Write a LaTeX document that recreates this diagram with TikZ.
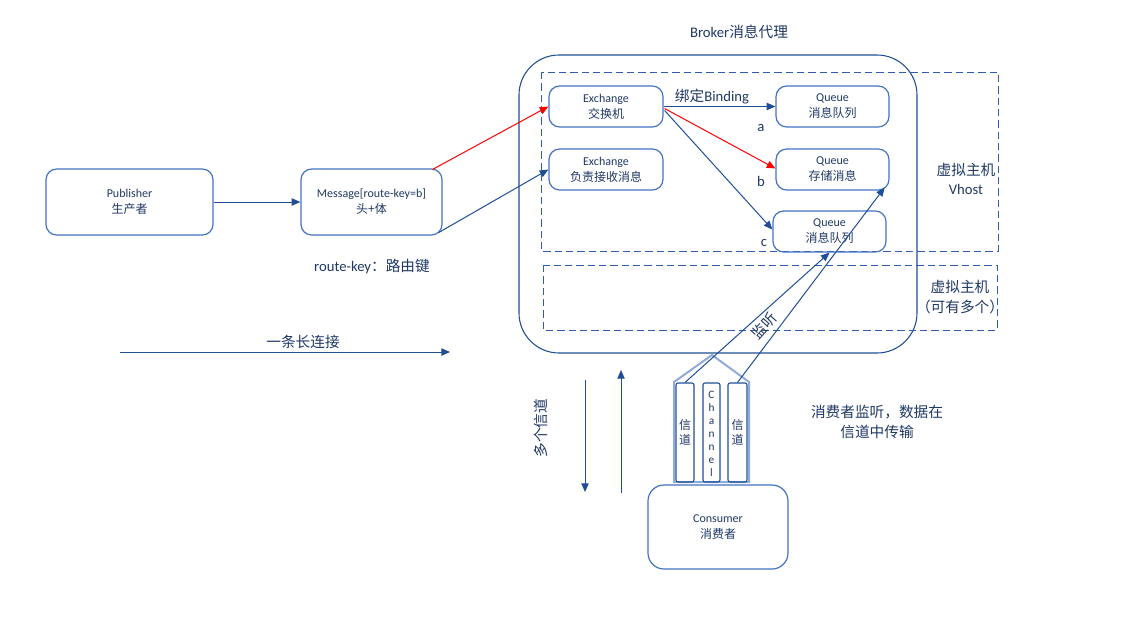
\documentclass[tikz,border=0pt]{standalone}
\usepackage{fontspec}
\setmainfont{Carlito}
\newfontfamily\cjk{Noto Sans CJK SC}
\usetikzlibrary{arrows.meta,calc}
\definecolor{lineblue}{HTML}{1F4E96}
\definecolor{dashblue}{HTML}{2F5CB0}
\definecolor{boxblue}{HTML}{4472C4}
\definecolor{txt}{HTML}{1F3864}
\definecolor{lightblue}{HTML}{8FAADC}
\begin{document}
\begin{tikzpicture}[x=0.75pt,y=-0.75pt,
  wh/.style 2 args={minimum width={#1*0.75pt}, minimum height={#2*0.75pt}},
  box/.style={draw=boxblue, line width=0.9pt, rounded corners=8pt, inner sep=0pt, align=center, text=txt, font=\fontsize{9}{12}\selectfont},
  chbox/.style={draw=lineblue, line width=0.8pt, rounded corners=1.5pt, inner sep=0pt, align=center, text=txt, font=\fontsize{9}{11.5}\selectfont},
  lbl/.style={text=txt, inner sep=0pt, align=center, font=\fontsize{11}{14.5}\selectfont},
  arr/.style={draw=lineblue, line width=0.75pt, -{Triangle[length=6.5pt,width=5.5pt]}},
  redarr/.style={draw=red, line width=0.75pt, -{Triangle[length=6.5pt,width=5.5pt]}},
  dash box/.style={draw=dashblue, line width=0.65pt, dash pattern=on 5.5pt off 3pt},
]
\useasboundingbox (0,0) rectangle (1138,621);

% Broker
\node[draw=lineblue, line width=0.8pt, rounded corners=30pt, wh={398}{298}, inner sep=0pt] (broker) at (718,204) {};
\node[lbl] (brokerlbl) at (739,32) {Broker{\cjk 消息代理}};

% virtual hosts
\draw[dash box] (541,72) rectangle (998,251);
\draw[dash box] (543,265) rectangle (997,330);
\node[lbl] (vh1) at (966,179) {{\cjk 虚拟主机}\\Vhost};
\node[lbl] (vh2) at (960,297) {{\cjk 虚拟主机}\\{\cjk （可有多个）}};

% exchanges & queues
\node[box, wh={114}{41}] (ex1) at (606,106.5) {Exchange\\{\cjk 交换机}};
\node[box, wh={114}{41}] (ex2) at (606,169.5) {Exchange\\{\cjk 负责接收消息}};
\node[box, wh={113}{41}] (qa) at (832.5,106.5) {Queue\\{\cjk 消息队列}};
\node[box, wh={113}{41}] (qb) at (832.5,169.5) {Queue\\{\cjk 存储消息}};
\node[box, wh={113}{41}] (qc) at (829.5,231.5) {Queue\\{\cjk 消息队列}};

\node[lbl] (bind) at (712,97) {{\cjk 绑定}Binding};
\node[lbl] (la) at (761,128) {a};
\node[lbl] (lb) at (761,181) {b};
\node[lbl] (lc) at (764,243) {c};

% publisher, message
\node[box, wh={167}{66}] (pub) at (129.5,202) {Publisher\\{\cjk 生产者}};
\node[box, wh={141}{66}] (msg) at (371.5,202) {Message[route-key=b]\\{\cjk 头+体}};
\node[lbl] (rk) at (372,266) {route-key{\cjk ：路由键}};

\draw[arr] (pub) -- (msg);
\draw[redarr] ($(msg.north east)+(-10,1)$) -- (ex1.west);
\draw[arr] ($(msg.south east)+(-4,-3)$) -- (ex2.west);
\draw[arr] (ex1.east) -- (qa.west);
\draw[redarr] ($(ex1.east)+(1,2)$) -- ($(qb.west)+(0,-1)$);
\draw[arr] ($(ex1.east)+(1,4)$) -- ($(qc.west)+(0,-2)$);

% long connection
\coordinate (lcs) at (120,352);
\coordinate (lce) at (450,352);
\draw[arr] (lcs) -- (lce);
\node[lbl] (lcl) at (303,342) {\cjk 一条长连接};

% multiple channels arrows
\coordinate (d1) at (585,380);
\coordinate (d2) at (585,492);
\coordinate (u1) at (621,493);
\coordinate (u2) at (621,370);
\draw[arr] (d1) -- (d2);
\draw[arr] (u1) -- (u2);
\node[lbl, rotate=90] (mc) at (541,428) {\cjk 多个信道};

% channel housing
\draw[draw=lightblue, line width=1.5pt] (674,482) -- (674,382) -- (712,355) -- (749,382) -- (749,482) -- cycle;
\node[chbox, wh={18}{99}] (ch1) at (685,432.5) {\cjk 信\\\cjk 道};
\node[chbox, wh={17}{99}] (ch2) at (711.5,432.5) {};
\node[text=txt, inner sep=0pt, align=center, font=\fontsize{8.5}{9.8}\selectfont] (chtxt) at (711.5,434) {C\\h\\a\\n\\n\\e\\l};
\node[chbox, wh={19}{99}] (ch3) at (737.5,432.5) {\cjk 信\\\cjk 道};

% consumer
\node[box, wh={140}{84}, rounded corners=12pt] (cons) at (718,527) {Consumer\\{\cjk 消费者}};

% listening
\draw[arr] (ch1.north) -- (qc.south);
\draw[arr] (ch3.north) -- ($(qb.south east)+(-5,-3)$);
\node[lbl, rotate=48] (listen) at (764,326) {\cjk 监听};

\node[lbl] (note) at (877,422) {\cjk 消费者监听，数据在\\\cjk 信道中传输};
\end{tikzpicture}
\end{document}
